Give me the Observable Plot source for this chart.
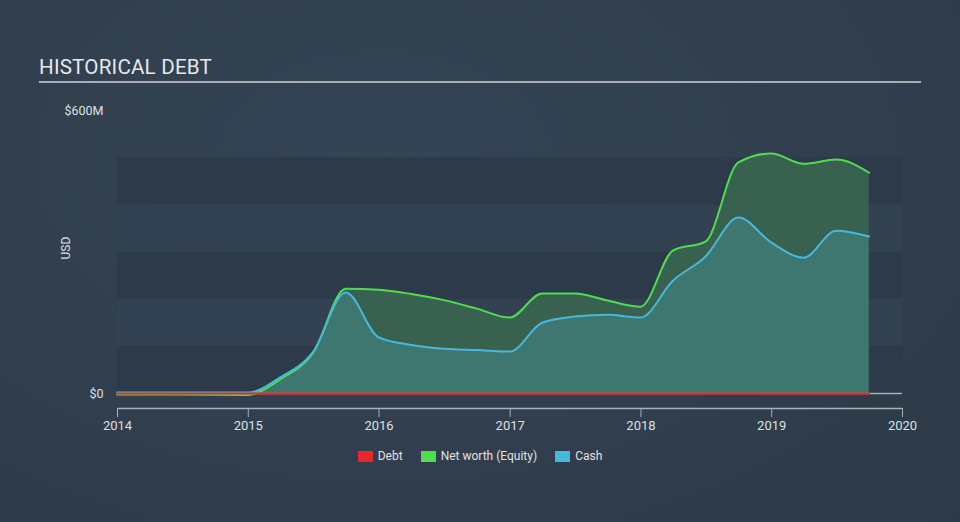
<!DOCTYPE html>
<html>
<head>
<meta charset="utf-8">
<script src="https://cdn.jsdelivr.net/npm/d3@7"></script>
<script src="https://cdn.jsdelivr.net/npm/@observablehq/plot@0.6"></script>
<style>
  html, body { margin: 0; padding: 0; }
  body { width: 960px; height: 522px; overflow: hidden; font-family: Roboto, "Open Sans", sans-serif; }
  #wrap { position: relative; width: 960px; height: 522px;
    background: radial-gradient(ellipse at 40% 30%, #354454 0%, #303e4d 60%, #2c3947 100%); }
  #title { position: absolute; left: 39px; top: 55px; font-size: 20.6px; color: #e6e8ea; letter-spacing: 0.2px; }
  #rule { position: absolute; left: 39px; top: 81px; width: 882px; height: 2px; background: #a9aeb4; }
  #chart { position: absolute; left: 0; top: 0; }
  #legend { position: absolute; left: 0; width: 960px; top: 449px; display: flex; justify-content: center; gap: 18px; font-size: 12px; color: #e0e2e5; }
  .item { display: flex; align-items: center; gap: 5px; }
  .sw { width: 15px; height: 11px; display: inline-block; }
</style>
</head>
<body>
<div id="wrap">
  <div id="title">HISTORICAL DEBT</div>
  <div id="rule"></div>
  <div id="chart"></div>
  <div id="legend"></div>
</div>
<script>
// ---- data (values in $M) ----
const dates = ["2013-12-31","2014-06-30","2014-12-31","2015-03-31","2015-06-30","2015-09-30","2015-12-31",
  "2016-03-31","2016-06-30","2016-09-30","2016-12-31","2017-03-31","2017-06-30","2017-09-30","2017-12-31",
  "2018-03-31","2018-06-30","2018-09-30","2018-12-31","2019-03-31","2019-06-30","2019-09-30"];
const debt   = [0,0,0,0,0,0,0, 0,0,0,0,0,0,0,0, 0,0,0,0,0,0,0];
const equity = [-2,-2,-3,30,85,222,220, 211,198,180,161,212,212,197,184, 303,322,490,509,487,496,468];
const cash   = [2,2,2,34,87,214,119, 103,95,92,89,150,163,167,161, 239,290,373,320,288,345,333];
const seriesNames = ["Debt","Net worth (Equity)","Cash"];
const seriesColors = ["#e8262b","#4fdc4f","#47b7dc"];
const yTicks = [0, 600];
const bandEdges = [0,100,200,300,400,500];
const xYears = [2014,2015,2016,2017,2018,2019,2020];

const rows = dates.map((d,i) => ({date: new Date(d), debt: debt[i], equity: equity[i], cash: cash[i]}));
const bands = bandEdges.slice(0,-1).map((v,i) => ({y1: v, y2: bandEdges[i+1], dark: i % 2 === 0}));
const yearDates = xYears.map(y => new Date(Date.UTC(y,0,1)));

// layout
const W = 960, H = 522, mTop = 110, mBottom = 114, mLeft = 117, mRight = 58;
const zeroY = 393, topY = 110;
const pxPerM = (zeroY - topY) / 600;
const yMin = -(H - mBottom - zeroY) / pxPerM;

const xDom = [yearDates[0], yearDates[yearDates.length-1]];

const chart = Plot.plot({
  width: W, height: H,
  marginTop: mTop, marginBottom: mBottom, marginLeft: mLeft, marginRight: mRight,
  style: {background: "transparent", fontFamily: "Roboto, sans-serif", fontSize: "12px", color: "#dde0e4"},
  x: {type: "utc", domain: xDom},
  y: {domain: [yMin, 600]},
  marks: [
    Plot.rect(bands, {x1: xDom[0], x2: xDom[1], y1: "y1", y2: "y2",
      fill: d => d.dark ? "#2c3a49" : "#334252", fillOpacity: 0.9}),
    Plot.areaY(rows, {x: "date", y1: 0, y2: "equity", fill: "#3a6350", fillOpacity: 0.95, curve: "monotone-x"}),
    Plot.areaY(rows, {x: "date", y1: 0, y2: "cash", fill: "#3e7772", fillOpacity: 0.97, curve: "monotone-x"}),
    Plot.ruleY([0], {x1: xDom[0], x2: xDom[1], stroke: "#a9b0b9", strokeWidth: 1.5}),
    Plot.lineY(rows, {x: "date", y: "equity", stroke: seriesColors[1], strokeWidth: 2, curve: "monotone-x"}),
    Plot.lineY(rows, {x: "date", y: "cash", stroke: seriesColors[2], strokeWidth: 2, curve: "monotone-x"}),
    Plot.lineY(rows, {x: "date", y: "debt", stroke: seriesColors[0], strokeWidth: 2, curve: "monotone-x"}),
    Plot.ruleY([yMin], {x1: xDom[0], x2: xDom[1], stroke: "#a9b0b9", strokeWidth: 1.5}),
    Plot.axisX({ticks: yearDates, tickFormat: d3.utcFormat("%Y"), tickSize: 9, tickPadding: 3,
      stroke: "#a9b0b9", fill: "#dde0e4", fontSize: 13, label: null}),
    Plot.axisY({ticks: yTicks, tickSize: 0, tickPadding: 14, fill: "#dde0e4", fontSize: 12.5, label: null,
      tickFormat: d => d === 0 ? "$0" : `$${d}M`}),
    Plot.text(["USD"], {frameAnchor: "left", dx: -51, rotate: -90, fill: "#dde0e4", fontSize: 12})
  ]
});
document.getElementById("chart").appendChild(chart);

const legend = document.getElementById("legend");
seriesNames.forEach((n,i) => {
  const it = document.createElement("div"); it.className = "item";
  const sw = document.createElement("span"); sw.className = "sw"; sw.style.background = seriesColors[i];
  const tx = document.createElement("span"); tx.textContent = n;
  it.appendChild(sw); it.appendChild(tx); legend.appendChild(it);
});
</script>
</body>
</html>
